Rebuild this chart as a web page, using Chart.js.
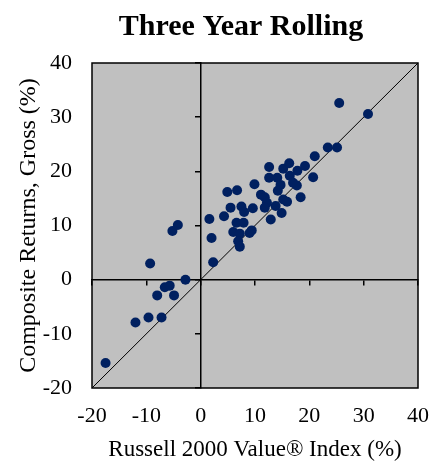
<!DOCTYPE html>
<html>
<head>
<meta charset="utf-8">
<script src="https://cdn.jsdelivr.net/npm/chart.js@4/dist/chart.umd.min.js"></script>
<style>
  html, body { margin: 0; padding: 0; background: #fff; }
  #wrap { width: 433px; height: 461px; }
</style>
</head>
<body>
<div id="wrap"><canvas id="myChart" width="433" height="461"></canvas></div>
<script>
const ctx = document.getElementById('myChart').getContext('2d');

// three year rolling returns (%)
const russellReturns = [25.5, 30.8, 23.4, 25.1, 21.0, 12.6, 15.2, 16.3, 17.8, 19.2,
  12.6, 14.1, 16.4, 20.7, 9.9, 14.7, 17.0, 17.7, 4.9, 6.7,
  14.2, 11.1, 11.8, 15.2, 18.4, 12.2, 15.9, 13.8, 5.5, 7.5,
  8.0, 9.6, 11.8, 14.9, 1.6, 4.3, 12.9, 6.6, 7.9, 6.0,
  7.2, 9.0, 9.4, 2.0, 6.9, 7.2, 2.3, -5.2, -4.2, -9.3,
  -2.8, -6.6, -5.7, -8.0, -4.9, -9.6, -7.2, -12.0, -17.5];
const compositeReturns = [32.6, 30.6, 24.4, 24.4, 22.8, 20.8, 20.5, 21.5, 20.1, 21.0,
  18.8, 18.8, 19.2, 18.9, 17.6, 17.5, 17.9, 17.4, 16.2, 16.5,
  16.4, 15.7, 15.2, 14.8, 15.2, 14.2, 14.4, 13.6, 13.3, 13.5,
  12.5, 13.2, 13.3, 12.3, 11.2, 11.7, 11.1, 10.5, 10.5, 8.8,
  8.5, 8.6, 9.1, 7.7, 7.1, 6.1, 3.2, 9.0, 10.1, 3.0,
  0.0, -1.4, -1.1, -2.9, -2.9, -7.0, -7.0, -7.9, -15.4];

// 45 degree reference line
const diagonalX = [-20, 40];
const diagonalY = [-20, 40];

const axisMin = -20;
const axisMax = 40;
const axisStep = 10;

const chartTitle = 'Three Year Rolling';
const xTitle = 'Russell 2000 Value\u00AE Index (%)';
const yTitle = 'Composite Returns, Gross (%)';

const points = russellReturns.map((x, i) => ({x: x, y: compositeReturns[i]}));
const diagonal = diagonalX.map((x, i) => ({x: x, y: diagonalY[i]}));

const serif = "'Liberation Serif', 'Times New Roman', serif";

// gray plot area, black frame, title
const plotFrame = {
  id: 'plotFrame',
  beforeDraw(chart) {
    const a = chart.chartArea;
    const c = chart.ctx;
    c.save();
    c.fillStyle = '#c0c0c0';
    c.fillRect(a.left, a.top, a.right - a.left, a.bottom - a.top);
    c.restore();
  },
  afterDraw(chart) {
    const a = chart.chartArea;
    const c = chart.ctx;
    c.save();
    c.strokeStyle = '#000';
    c.lineWidth = 1.5;
    c.strokeRect(a.left, a.top, a.right - a.left, a.bottom - a.top);
    c.fillStyle = '#000';
    c.font = 'bold 30px ' + serif;
    c.textAlign = 'center';
    c.textBaseline = 'alphabetic';
    c.fillText(chartTitle, 241, 35);
    c.restore();
  }
};

// keep the crossing axes from taking layout room
function noRoom(scale) {
  if (scale.isHorizontal()) scale.height = 0; else scale.width = 0;
  scale.paddingLeft = scale.paddingRight = scale.paddingTop = scale.paddingBottom = 0;
}

const myChart = new Chart(ctx, {
  type: 'scatter',
  data: {
    datasets: [
      {
        label: 'Composite',
        data: points,
        backgroundColor: '#002060',
        borderWidth: 0,
        pointRadius: 5,
        pointHoverRadius: 5
      },
      {
        label: 'Diagonal',
        data: diagonal,
        showLine: true,
        borderColor: '#000',
        borderWidth: 1,
        pointRadius: 0,
        fill: false
      }
    ]
  },
  options: {
    responsive: false,
    animation: false,
    layout: { padding: { left: 0, right: 15, top: 63, bottom: 0 } },
    plugins: {
      legend: { display: false },
      tooltip: { enabled: false }
    },
    scales: {
      x: {
        type: 'linear',
        position: 'bottom',
        min: axisMin, max: axisMax,
        grid: { display: false, drawTicks: false },
        border: { display: false },
        ticks: { stepSize: axisStep, color: '#000', padding: 15, maxRotation: 0,
          font: { family: serif, size: 22 } },
        title: { display: true, text: xTitle, color: '#000',
          padding: { top: 0, bottom: 0 },
          font: { family: serif, size: 23, lineHeight: 1.0 } },
        afterFit(scale) {
          scale.height = 73;
          scale.paddingLeft = scale.paddingRight = 0;
        }
      },
      y: {
        type: 'linear',
        position: 'left',
        min: axisMin, max: axisMax,
        grid: { display: false, drawTicks: false },
        border: { display: false },
        ticks: { stepSize: axisStep, color: '#000', padding: 20,
          font: { family: serif, size: 22 } },
        title: { display: true, text: yTitle, color: '#000',
          padding: { top: 14, bottom: 0 },
          font: { family: serif, size: 24, lineHeight: 1.2 } },
        afterFit(scale) {
          scale.width = 92;
          scale.paddingTop = scale.paddingBottom = 0;
        }
      },
      x0: {
        axis: 'x',
        type: 'linear',
        position: { y: 0 },
        min: axisMin, max: axisMax,
        grid: { drawOnChartArea: false, drawTicks: true, tickLength: 5, color: '#000', lineWidth: 1.5 },
        border: { display: true, color: '#000', width: 1.5 },
        ticks: { stepSize: axisStep, display: false },
        afterFit: noRoom
      },
      y0: {
        axis: 'y',
        type: 'linear',
        position: { x: 0 },
        min: axisMin, max: axisMax,
        grid: { drawOnChartArea: false, drawTicks: true, tickLength: 5, color: '#000', lineWidth: 1.5 },
        border: { display: true, color: '#000', width: 1.5 },
        ticks: { stepSize: axisStep, display: false },
        afterFit: noRoom
      }
    }
  },
  plugins: [plotFrame]
});
</script>
</body>
</html>
